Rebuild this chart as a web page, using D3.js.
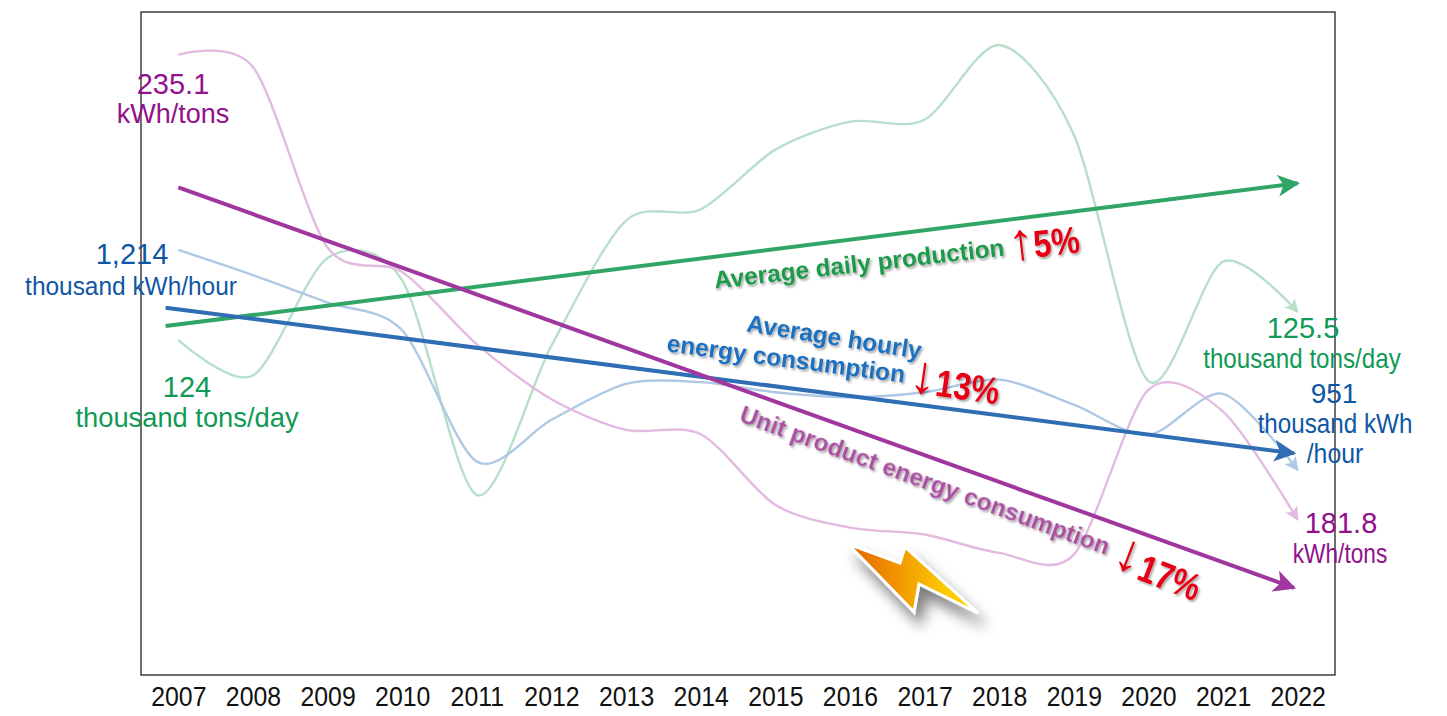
<!DOCTYPE html>
<html>
<head>
<meta charset="utf-8">
<script src="https://cdn.jsdelivr.net/npm/d3@7"></script>
<style>
  html, body { margin: 0; padding: 0; background: #fff; }
  svg { display: block; font-family: "Liberation Sans", Arial, sans-serif; }
</style>
</head>
<body>
<svg id="chart"></svg>
<script>
const years = [2007, 2008, 2009, 2010, 2011, 2012, 2013, 2014, 2015, 2016, 2017, 2018, 2019, 2020, 2021, 2022];

// Each series in its own unit
const production = [124, 122.1, 128.4, 127.2, 115.7, 123.7, 130.4, 131, 134.2, 135.7, 135.8, 139.8, 135, 121.8, 128.2, 125.5];
const hourlyEnergy = [1214, 1184, 1151, 1118, 961, 1011, 1054, 1056, 1044, 1038, 1044, 1059, 1029, 993, 1042, 951];
const unitEnergy = [235.1, 233.7, 213, 210.2, 201.9, 195.6, 192.1, 191.6, 183.5, 180.9, 180.1, 178, 177.8, 196.7, 194.2, 181.8];

// Trend arrows: [year, value] at both ends
const productionTrend = [[2006.83, 124.75], [2022, 132.4]];
const hourlyTrend = [[2006.83, 1145], [2021.95, 971]];
const unitTrend = [[2007, 219.9], [2021.95, 174]];

const width = 1447;
const height = 716;
const margin = {top: 12, right: 112, bottom: 41, left: 141};

const svg = d3.select('#chart').attr('width', width).attr('height', height);
const defs = svg.append('defs');

const x = d3.scaleLinear()
    .domain([2006.5, 2022.5])
    .range([margin.left, width - margin.right]);

// Every series has its own hidden value axis, like the original
const yRange = [height - margin.bottom, margin.top];
const yProduction = d3.scaleLinear().domain([106.06, 141.57]).range(yRange);
const yHourly = d3.scaleLinear().domain([706, 1498.4]).range(yRange);
const yUnit = d3.scaleLinear().domain([164, 240]).range(yRange);

const series = [
  {id: 'production', values: production, trend: productionTrend, y: yProduction, pale: '#b7dfca', strong: '#31a566'},
  {id: 'hourly', values: hourlyEnergy, trend: hourlyTrend, y: yHourly, pale: '#afc9e5', strong: '#2f6db4'},
  {id: 'unit', values: unitEnergy, trend: unitTrend, y: yUnit, pale: '#e3bbe1', strong: '#a0379f'},
];

// Arrow heads, one pale and one strong for each colour
function addMarker(id, color, size) {
  defs.append('marker')
      .attr('id', id)
      .attr('viewBox', '0 0 10 10')
      .attr('refX', 9)
      .attr('refY', 5)
      .attr('markerUnits', 'userSpaceOnUse')
      .attr('markerWidth', size)
      .attr('markerHeight', size)
      .attr('orient', 'auto')
      .append('path')
      .attr('d', 'M0,0L10,5L0,10L2.5,5Z')
      .attr('fill', color);
}
series.forEach((s) => {
  addMarker(`pale-${s.id}`, s.pale, 14);
  addMarker(`strong-${s.id}`, s.strong, 22);
});

// Shadow for the slanted labels
const textShadow = defs.append('filter')
    .attr('id', 'textShadow')
    .attr('x', '-10%').attr('y', '-30%').attr('width', '120%').attr('height', '170%');
textShadow.append('feDropShadow')
    .attr('dx', 1.5).attr('dy', 2).attr('stdDeviation', 1.2)
    .attr('flood-color', '#000').attr('flood-opacity', 0.35);

const boltShadow = defs.append('filter')
    .attr('id', 'boltShadow')
    .attr('x', '-30%').attr('y', '-30%').attr('width', '170%').attr('height', '180%');
boltShadow.append('feDropShadow')
    .attr('dx', 7).attr('dy', 12).attr('stdDeviation', 7)
    .attr('flood-color', '#000').attr('flood-opacity', 0.5);

const boltFill = defs.append('linearGradient').attr('id', 'boltFill');
boltFill.append('stop').attr('offset', '0%').attr('stop-color', '#e65f00');
boltFill.append('stop').attr('offset', '75%').attr('stop-color', '#fdcb00');

// Plot frame
svg.append('rect')
    .attr('x', margin.left)
    .attr('y', margin.top)
    .attr('width', width - margin.left - margin.right)
    .attr('height', height - margin.top - margin.bottom)
    .attr('fill', 'none')
    .attr('stroke', '#333')
    .attr('stroke-width', 1.4);

// Year labels, the original text is a little narrower than Arial
svg.append('g')
    .attr('transform', `translate(0,${height - margin.bottom})`)
    .call(d3.axisBottom(x).tickValues(years).tickFormat(d3.format('d')).tickSize(0).tickPadding(12))
    .call((g) => g.select('.domain').remove())
    .selectAll('text')
    .attr('font-family', '"Liberation Sans", Arial, sans-serif')
    .attr('font-size', 27)
    .attr('fill', '#111')
    .attr('transform', 'scale(0.92,1)');

// Pale smoothed yearly lines
svg.append('g')
    .attr('fill', 'none')
    .selectAll('path')
    .data(series)
    .join('path')
    .attr('stroke', (d) => d.pale)
    .attr('stroke-width', 2.4)
    .attr('marker-end', (d) => `url(#pale-${d.id})`)
    .attr('d', (d) => d3.line()
        .x((v, i) => x(years[i]))
        .y((v) => d.y(v))
        .curve(d3.curveCardinal.tension(0.15))(d.values));

// Strong trend arrows
svg.append('g')
    .attr('fill', 'none')
    .selectAll('path')
    .data(series)
    .join('path')
    .attr('stroke', (d) => d.strong)
    .attr('stroke-width', 4)
    .attr('marker-end', (d) => `url(#strong-${d.id})`)
    .attr('d', (d) => d3.line()
        .x((p) => x(p[0]))
        .y((p) => d.y(p[1]))(d.trend));

// Lightning bolt decoration
svg.append('path')
    .attr('d', 'M848,544L900,563L905,547L978,613L919,584L914,612Z')
    .attr('fill', 'url(#boltFill)')
    .attr('stroke', '#fff')
    .attr('stroke-width', 3)
    .attr('stroke-linejoin', 'miter')
    .attr('filter', 'url(#boltShadow)');

// End value labels, sx squeezes the wider ones to the original width
const valueLabels = [
  {text: '235.1', x: 173, y: 94, size: 29, sx: 1, color: '#93118c'},
  {text: 'kWh/tons', x: 173, y: 123, size: 27, sx: 1, color: '#93118c'},
  {text: '1,214', x: 132, y: 264, size: 29, sx: 1, color: '#0f57a5'},
  {text: 'thousand kWh/hour', x: 131, y: 295, size: 26, sx: 0.94, color: '#0f57a5'},
  {text: '124', x: 187, y: 397, size: 29, sx: 1, color: '#109a56'},
  {text: 'thousand tons/day', x: 187, y: 427, size: 27.3, sx: 1, color: '#109a56'},
  {text: '125.5', x: 1303, y: 338, size: 29, sx: 1, color: '#109a56'},
  {text: 'thousand tons/day', x: 1302, y: 368, size: 27.3, sx: 0.886, color: '#109a56'},
  {text: '951', x: 1334, y: 403, size: 28, sx: 1, color: '#0f57a5'},
  {text: 'thousand kWh', x: 1335, y: 433, size: 28, sx: 0.865, color: '#0f57a5'},
  {text: '/hour', x: 1335, y: 463, size: 27, sx: 0.92, color: '#0f57a5'},
  {text: '181.8', x: 1341, y: 533, size: 29, sx: 1, color: '#93118c'},
  {text: 'kWh/tons', x: 1340, y: 563, size: 28, sx: 0.81, color: '#93118c'},
];
svg.append('g')
    .attr('text-anchor', 'middle')
    .selectAll('text')
    .data(valueLabels)
    .join('text')
    .attr('transform', (d) => `translate(${d.x},${d.y}) scale(${d.sx},1)`)
    .attr('font-size', (d) => d.size)
    .attr('fill', (d) => d.color)
    .text((d) => d.text);

// Slanted bold labels with shadow
const slantLabels = [
  {text: 'Average daily production', x: 860, y: 272, angle: -6.5, size: 24.4, sx: 1, color: '#1e9a4a'},
  {text: '↑', x: 1023, y: 259, angle: -6.5, size: 52, sx: 1, color: '#e60012'},
  {text: '5%', x: 1058, y: 255, angle: -6.5, size: 38, sx: 0.84, color: '#e60012'},
  {text: 'Average hourly', x: 833, y: 345, angle: 9, size: 24.4, sx: 1, color: '#1f6fc0'},
  {text: 'energy consumption', x: 785, y: 367, angle: 7.5, size: 24.4, sx: 1, color: '#1f6fc0'},
  {text: '↓', x: 921, y: 393, angle: 8, size: 54, sx: 1, color: '#e60012'},
  {text: '13%', x: 966, y: 400, angle: 8, size: 38, sx: 0.84, color: '#e60012'},
  {text: 'Unit product energy consumption', x: 922, y: 488, angle: 20, size: 24.4, sx: 1, color: '#a8509f'},
  {text: '↓', x: 1123, y: 570, angle: 21, size: 54, sx: 1, color: '#e60012'},
  {text: '17%', x: 1165, y: 590, angle: 21, size: 38, sx: 0.84, color: '#e60012'},
];
svg.append('g')
    .attr('text-anchor', 'middle')
    .attr('font-weight', 'bold')
    .attr('filter', 'url(#textShadow)')
    .selectAll('text')
    .data(slantLabels)
    .join('text')
    .attr('transform', (d) => `translate(${d.x},${d.y}) rotate(${d.angle}) scale(${d.sx},1)`)
    .attr('font-size', (d) => d.size)
    .attr('fill', (d) => d.color)
    .text((d) => d.text);
</script>
</body>
</html>
